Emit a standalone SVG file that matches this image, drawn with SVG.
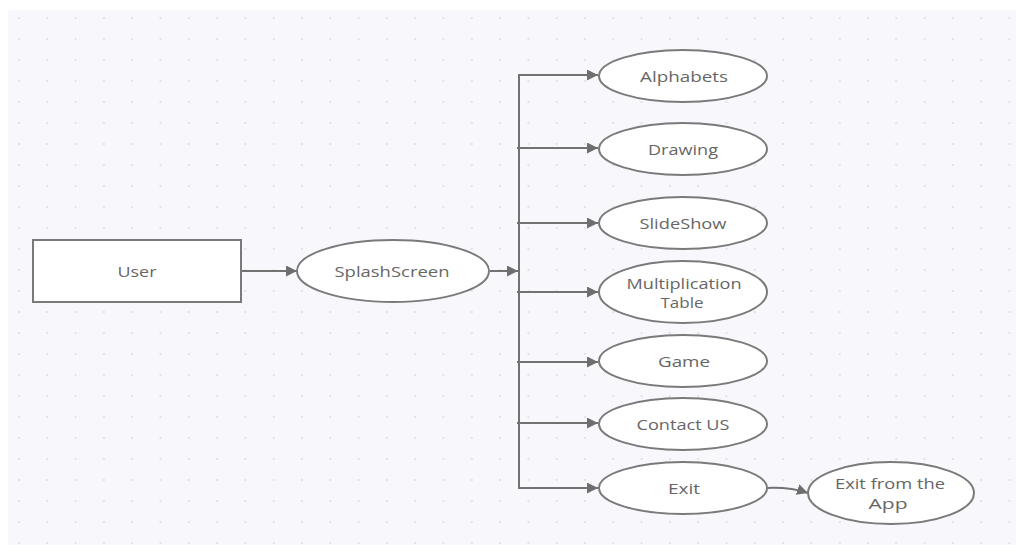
<svg xmlns="http://www.w3.org/2000/svg" width="1016" height="545" viewBox="0 0 1016 545">
<defs>
<pattern id="grid" x="18" y="17" width="28.3" height="21" patternUnits="userSpaceOnUse">
<rect x="-1" y="-1" width="3" height="3" fill="#e2e2ea"/>
</pattern>
<marker id="arr" viewBox="0 0 10 10" refX="10" refY="5" markerWidth="11" markerHeight="11" markerUnits="userSpaceOnUse" orient="auto">
<path d="M0,0 L10,5 L0,10 z" fill="#6e6e6e"/>
</marker>
<style>
.shape{fill:#ffffff;stroke:#7a7a7a;stroke-width:2}
.lbl{font-family:"Open Sans","Liberation Sans",sans-serif;font-size:14px;fill:#666666;text-anchor:middle;dominant-baseline:central}
.conn{fill:none;stroke:#727272;stroke-width:2}
</style>
</defs>
<rect width="1016" height="545" fill="#ffffff"/>
<rect x="8" y="10" width="1008" height="535" fill="#f8f8fc"/>
<rect x="8" y="10" width="1008" height="535" fill="url(#grid)"/>

<g id="connectors">
<line class="conn" x1="241" y1="271" x2="297" y2="271" marker-end="url(#arr)"/>
<line class="conn" x1="490" y1="271" x2="518" y2="271" marker-end="url(#arr)"/>
<line class="conn" x1="519" y1="74" x2="519" y2="489"/>
<line class="conn" x1="518" y1="75" x2="598" y2="75" marker-end="url(#arr)"/>
<line class="conn" x1="517" y1="148" x2="598" y2="148" marker-end="url(#arr)"/>
<line class="conn" x1="517" y1="223" x2="598" y2="223" marker-end="url(#arr)"/>
<line class="conn" x1="517" y1="292" x2="598" y2="292" marker-end="url(#arr)"/>
<line class="conn" x1="517" y1="362" x2="598" y2="362" marker-end="url(#arr)"/>
<line class="conn" x1="517" y1="423" x2="598" y2="423" marker-end="url(#arr)"/>
<line class="conn" x1="518" y1="488" x2="598" y2="488" marker-end="url(#arr)"/>
<path class="conn" d="M767,488 Q790,487 808,493" marker-end="url(#arr)"/>
</g>

<g id="user">
<rect class="shape" x="33" y="240" width="208" height="62"/>
<text class="lbl" x="137" y="271" textLength="39" lengthAdjust="spacingAndGlyphs">User</text>
</g>
<g id="splash">
<ellipse class="shape" cx="393" cy="271" rx="96" ry="31"/>
<text class="lbl" x="392" y="271" textLength="115" lengthAdjust="spacingAndGlyphs">SplashScreen</text>
</g>
<g id="alphabets">
<ellipse class="shape" cx="683" cy="76" rx="84" ry="26"/>
<text class="lbl" x="684" y="76" textLength="88" lengthAdjust="spacingAndGlyphs">Alphabets</text>
</g>
<g id="drawing">
<ellipse class="shape" cx="683" cy="149" rx="84" ry="26"/>
<text class="lbl" x="683" y="149" textLength="70" lengthAdjust="spacingAndGlyphs">Drawing</text>
</g>
<g id="slideshow">
<ellipse class="shape" cx="683" cy="223" rx="84" ry="26"/>
<text class="lbl" x="683" y="223" textLength="87" lengthAdjust="spacingAndGlyphs">SlideShow</text>
</g>
<g id="multiplication">
<ellipse class="shape" cx="683" cy="292" rx="84" ry="31"/>
<text class="lbl" x="684" y="283" textLength="115" lengthAdjust="spacingAndGlyphs">Multiplication</text>
<text class="lbl" x="682" y="302" textLength="43" lengthAdjust="spacingAndGlyphs">Table</text>
</g>
<g id="game">
<ellipse class="shape" cx="683" cy="361" rx="84" ry="26"/>
<text class="lbl" x="684" y="361" textLength="52" lengthAdjust="spacingAndGlyphs">Game</text>
</g>
<g id="contact">
<ellipse class="shape" cx="683" cy="424" rx="84" ry="26"/>
<text class="lbl" x="683" y="424" textLength="93" lengthAdjust="spacingAndGlyphs">Contact US</text>
</g>
<g id="exit">
<ellipse class="shape" cx="683" cy="488" rx="84" ry="26"/>
<text class="lbl" x="684" y="488" textLength="32" lengthAdjust="spacingAndGlyphs">Exit</text>
</g>
<g id="exit-app">
<ellipse class="shape" cx="891" cy="493" rx="83" ry="31"/>
<text class="lbl" x="890" y="483" textLength="110" lengthAdjust="spacingAndGlyphs">Exit from the</text>
<text class="lbl" x="888" y="503" textLength="39" lengthAdjust="spacingAndGlyphs">App</text>
</g>
</svg>
